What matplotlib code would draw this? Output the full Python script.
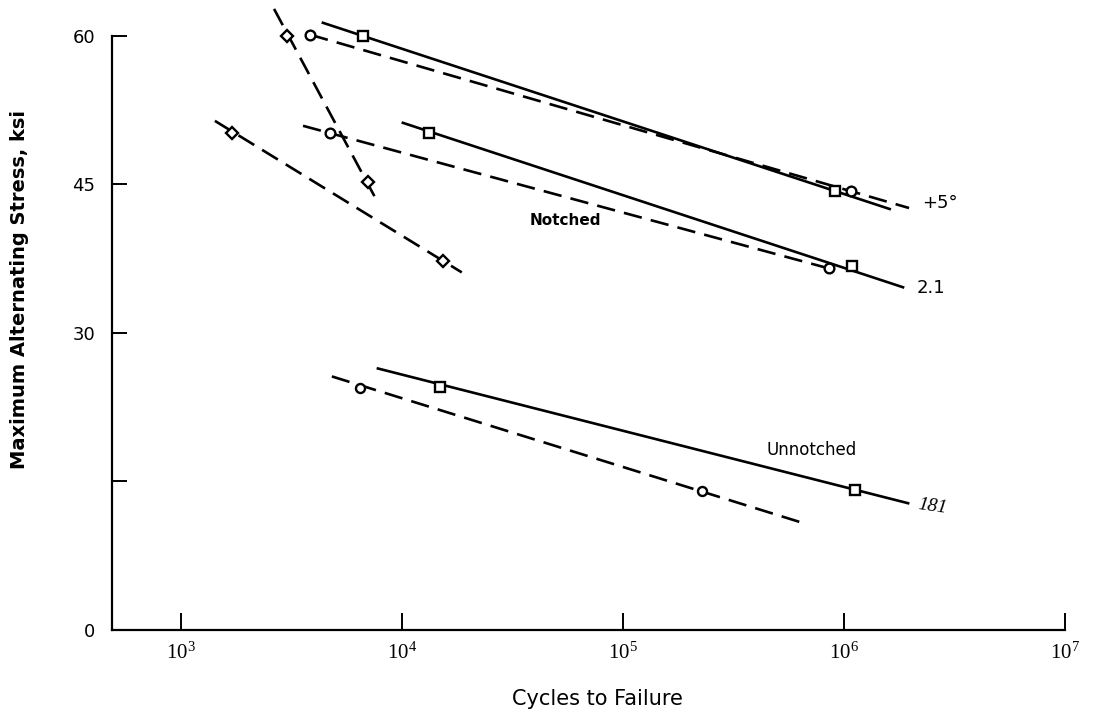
import matplotlib
matplotlib.use("Agg")
import matplotlib.pyplot as plt

# ---- data (cycles, ksi) ----
# fitted line endpoints
steep_line_x = [2640, 7550];      steep_line_y = [62.7, 43.7]
steep_pts_x = [3020, 7020];       steep_pts_y = [60.0, 45.2]

diag_line_x = [1425, 18660];      diag_line_y = [51.4, 36.1]
diag_pts_x = [1700, 15350];       diag_pts_y = [50.2, 37.3]

p5_solid_x = [4390, 1.61e6];      p5_solid_y = [61.3, 42.5]
p5_sq_x = [6670, 9.1e5];          p5_sq_y = [60.0, 44.3]
p5_dash_x = [3840, 1.97e6];       p5_dash_y = [60.1, 42.6]
p5_ci_x = [3840, 1.08e6];         p5_ci_y = [60.1, 44.3]

n_solid_x = [10100, 1.85e6];      n_solid_y = [51.2, 34.6]
n_sq_x = [13250, 1.09e6];         n_sq_y = [50.2, 36.7]
n_dash_x = [3570, 8.55e5];        n_dash_y = [50.9, 36.5]
n_ci_x = [4720, 8.55e5];          n_ci_y = [50.2, 36.5]

u_solid_x = [7790, 1.95e6];       u_solid_y = [26.4, 12.8]
u_sq_x = [14860, 1.12e6];         u_sq_y = [24.5, 14.1]
u_dash_x = [4820, 6.32e5];        u_dash_y = [25.6, 10.9]
u_ci_x = [6460, 2.28e5];          u_ci_y = [24.4, 14.0]

x_ticks = [1e3, 1e4, 1e5, 1e6, 1e7]
x_tick_labels = [r"$\mathregular{10^{3}}$", r"$\mathregular{10^{4}}$",
                 r"$\mathregular{10^{5}}$", r"$\mathregular{10^{6}}$",
                 r"$\mathregular{10^{7}}$"]
y_ticks = [0, 15, 30, 45, 60]
y_tick_labels = ["0", "", "30", "45", "60"]

# ---- figure ----
fig = plt.figure(figsize=(11, 7.17), dpi=100)
ax = fig.add_axes([112/1100, 1 - 630/717, (1065-112)/1100, 630/717])
ax.set_xscale("log")
ax.set_xlim(488, 1e7)
ax.set_ylim(0, 63.6)

lw = 1.9
dash = (7, 3.5)
k = "black"

def dline(x, y):
    l, = ax.plot(x, y, color=k, lw=lw, ls="--", solid_capstyle="butt")
    l.set_dashes(dash)

def sline(x, y):
    ax.plot(x, y, color=k, lw=lw, ls="-")

def mark(x, y, m, ms):
    ax.plot(x, y, ls="none", marker=m, ms=ms, mfc="white", mec=k, mew=1.7, zorder=5)

dline(steep_line_x, steep_line_y); mark(steep_pts_x, steep_pts_y, "D", 6.5)
dline(diag_line_x, diag_line_y);   mark(diag_pts_x, diag_pts_y, "D", 6.5)

sline(p5_solid_x, p5_solid_y); mark(p5_sq_x, p5_sq_y, "s", 6.5)
dline(p5_dash_x, p5_dash_y);   mark(p5_ci_x, p5_ci_y, "o", 7)

sline(n_solid_x, n_solid_y); mark(n_sq_x, n_sq_y, "s", 6.5)
dline(n_dash_x, n_dash_y);   mark(n_ci_x, n_ci_y, "o", 7)

sline(u_solid_x, u_solid_y); mark(u_sq_x, u_sq_y, "s", 6.5)
dline(u_dash_x, u_dash_y);   mark(u_ci_x, u_ci_y, "o", 6.5)

# spines
for s in ("top", "right"):
    ax.spines[s].set_visible(False)
ax.spines["left"].set_bounds(0, 60)
ax.spines["left"].set_linewidth(1.6)
ax.spines["bottom"].set_linewidth(1.6)

ax.set_xticks(x_ticks)
ax.set_xticklabels(x_tick_labels, fontfamily="Liberation Serif", fontsize=15)
ax.xaxis.set_minor_locator(matplotlib.ticker.NullLocator())
ax.set_yticks(y_ticks)
ax.set_yticklabels(y_tick_labels, fontsize=13)
ax.tick_params(axis="x", direction="in", length=12, width=1.4, pad=9)
ax.tick_params(axis="y", direction="in", length=11, width=1.4, pad=12)

ax.set_xlabel("Cycles to Failure", fontsize=15)
ax.xaxis.set_label_coords(0.509, -0.093)
ax.set_ylabel("Maximum Alternating Stress, ksi", fontsize=14, fontweight="bold")
ax.yaxis.set_label_coords(-0.087, 0.54)

# annotations
def px2data(px, py):
    xd = 10 ** (3 + (px - 181) / 221)
    yd = (630 - py) / 9.9
    return xd, yd

ax.text(*px2data(565, 221), "Notched", fontsize=11, fontweight="bold", ha="center", va="center")
ax.text(*px2data(812, 450), "Unnotched", fontsize=12, ha="center", va="center")
ax.text(*px2data(922, 203), "+5°", fontsize=13, ha="left", va="center")
ax.text(*px2data(917, 288), "2.1", fontsize=13, ha="left", va="center")
ax.text(*px2data(917, 507), "181", fontsize=14, fontstyle="italic", ha="left", va="center",
        fontfamily="Liberation Serif", rotation=-8)

fig.savefig("out.png", dpi=100)
